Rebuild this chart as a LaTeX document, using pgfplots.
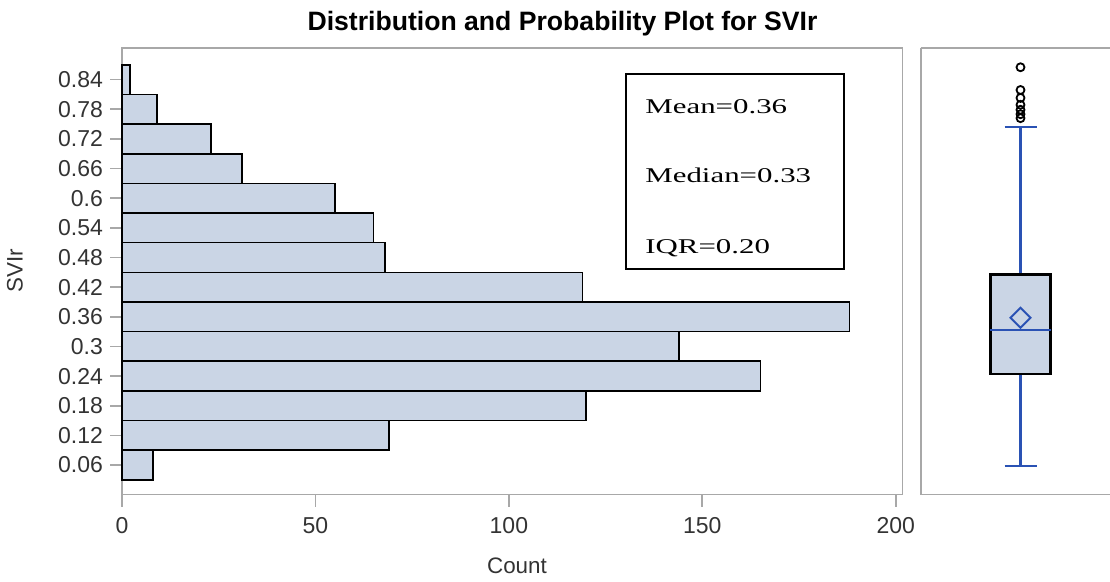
\documentclass[border=0pt]{standalone}
\usepackage{pgfplots}
\pgfplotsset{compat=1.18}
\usepgfplotslibrary{statistics}
\usepackage{graphicx}
\usepackage{fontspec}
\setmainfont{Liberation Sans}
\newfontfamily\timesf{Liberation Serif}
\definecolor{barfill}{HTML}{CAD5E5}
\definecolor{boxblue}{HTML}{2A52B4}
\definecolor{framegray}{HTML}{A8A8A8}
\definecolor{ticktext}{HTML}{333333}
\begin{document}
\begin{tikzpicture}
\path[use as bounding box] (0,0) rectangle (555pt,-291pt);
\begin{axis}[
  at={(61pt,-247.35pt)}, anchor=south west,
  scale only axis, width=390.15pt, height=223.35pt,
  xmin=0, xmax=201.7, ymin=0, ymax=0.904,
  axis line style={framegray, line width=0.8pt},
  tick style={framegray, line width=0.8pt},
  tick align=outside, major tick length=6pt,
  xtick pos=bottom, ytick pos=left,
  xtick={0,50,100,150,200},
  xticklabels={0,50,100,150,200},
  ytick={0.06,0.12,0.18,0.24,0.3,0.36,0.42,0.48,0.54,0.6,0.66,0.72,0.78,0.84},
  yticklabels={0.06,0.12,0.18,0.24,0.3,0.36,0.42,0.48,0.54,0.6,0.66,0.72,0.78,0.84},
  ticklabel style={font=\fontsize{11.5}{13}\selectfont, text=ticktext},
  xticklabel style={yshift=-2pt},
  clip=false,
]
\addplot[xbar, bar width=0.06, fill=barfill, draw=black, line width=0.8pt]
coordinates {
(8,0.06) (69,0.12) (120,0.18) (165,0.24) (144,0.3) (188,0.36) (119,0.42)
(68,0.48) (65,0.54) (55,0.6) (31,0.66) (23,0.72) (9,0.78) (2,0.84)
};
\end{axis}
\begin{axis}[
  at={(460.35pt,-247.35pt)}, anchor=south west,
  scale only axis, width=94.65pt, height=223.35pt,
  xmin=0, xmax=1, ymin=0, ymax=0.904,
  axis x line=box, axis y line*=left,
  axis line style={framegray, line width=0.8pt},
  xtick=\empty, ytick=\empty,
  clip=false,
]
\addplot[draw=black, line width=1.2pt,
  boxplot/draw direction=y,
  boxplot prepared={draw position=0.5272,
    lower whisker=0.0581, lower quartile=0.2437, median=0.333,
    upper quartile=0.446, upper whisker=0.7436,
    box extend=0.3185, whisker extend=0.169},
  boxplot/every box/.style={draw=black, fill=barfill, line width=1.2pt},
  boxplot/every whisker/.style={draw=boxblue, line width=1.1pt},
  boxplot/every median/.style={draw=boxblue, line width=1.1pt},
] coordinates {};
\addplot[only marks, mark=square, mark size=3.54pt,
  mark options={rotate=45, draw=boxblue, fill=none, line width=1pt}]
coordinates {(0.5272,0.358)};
\addplot[only marks, mark=o, mark size=2pt,
  mark options={draw=black, line width=0.9pt}]
coordinates {(0.5272,0.865) (0.5272,0.819) (0.5272,0.803) (0.5272,0.789)
(0.5272,0.779) (0.5272,0.770) (0.5272,0.762)};
\end{axis}
\node[font=\bfseries\fontsize{13.3}{15}\selectfont] at (281.25pt,-12pt) {Distribution and Probability Plot for SVIr};
\node[font=\fontsize{11.2}{13}\selectfont, text=ticktext] at (258.5pt,-283pt) {Count};
\node[font=\fontsize{11.2}{13}\selectfont, text=ticktext, rotate=90] at (7.5pt,-135.5pt) {SVIr};
\draw[black, line width=1pt] (313pt,-37pt) rectangle (422pt,-134.5pt);
\node[anchor=base west, inner sep=0pt] at (322.5pt,-56.65pt) {\scalebox{1.47}[1]{\timesf\fontsize{10.5}{12}\selectfont Mean=0.36}};
\node[anchor=base west, inner sep=0pt] at (322.5pt,-91.35pt) {\scalebox{1.47}[1]{\timesf\fontsize{10.5}{12}\selectfont Median=0.33}};
\node[anchor=base west, inner sep=0pt] at (322.5pt,-127pt) {\scalebox{1.47}[1]{\timesf\fontsize{10.5}{12}\selectfont IQR=0.20}};
\end{tikzpicture}
\end{document}
